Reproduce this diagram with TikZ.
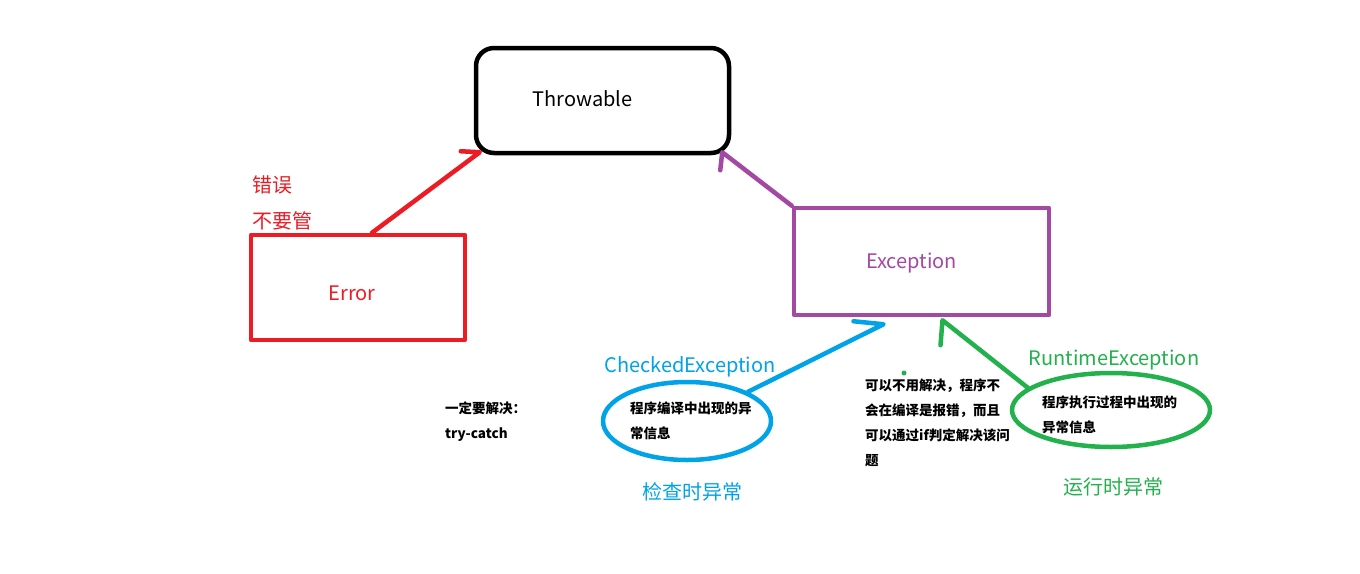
\documentclass[tikz,border=0pt]{standalone}
\usepackage{fontspec}
\setmainfont{Noto Sans CJK SC}
\usetikzlibrary{shapes.geometric}
\definecolor{penred}{HTML}{ED1C24}
\definecolor{penpurple}{HTML}{A349A4}
\definecolor{penblue}{HTML}{00A2E8}
\definecolor{pengreen}{HTML}{22B14C}
\begin{document}
\begin{tikzpicture}[x=1pt, y=-1pt,
    pen/.style={line width=4.5pt, line cap=round, line join=round},
    box/.style={pen, draw, rectangle, inner sep=0pt},
    oval/.style={pen, draw, ellipse, inner sep=0pt},
    big/.style={font=\fontsize{20}{24}\selectfont},
    note/.style={font=\fontsize{13.5}{25}\selectfont\bfseries, align=left, anchor=north west, inner sep=0pt}]

        \useasboundingbox[fill=white] (0,0) rectangle (1360,573);

        % ==========================================
        % 1. Throwable
        % ==========================================
        \node[box, rounded corners=18pt, minimum width=253pt, minimum height=105pt] (throwable) at (602.5,100.5) {};
        \node[big] at ([shift={(-20,-2)}]throwable.center) {Throwable};

        % ==========================================
        % 2. Error
        % ==========================================
        \node[box, penred, minimum width=214pt, minimum height=105pt] (error) at (358,287.5) {};
        \node[big, penred] at ([shift={(-6,6)}]error.center) {Error};
        \node[big, penred, anchor=west, inner sep=0pt] (errnote1) at (252,185) {错误};
        \node[big, penred, anchor=west, inner sep=0pt] (errnote2) at (252,221) {不要管};
        \draw[pen, penred] ([xshift=14]error.north) -- ([shift={(6,-3)}]throwable.south west) -- ++(-19,-1);

        % ==========================================
        % 3. Exception
        % ==========================================
        \node[box, penpurple, minimum width=255pt, minimum height=107pt] (exception) at (921.5,261.5) {};
        \node[big, penpurple] at ([shift={(-10,2)}]exception.center) {Exception};
        \draw[pen, penpurple] (exception.north west) -- ([shift={(-9,-3)}]throwable.south east) -- ++(-2,18);

        % ==========================================
        % 4. CheckedException
        % ==========================================
        \node[oval, penblue, minimum width=168pt, minimum height=78pt] (checked) at (687,421) {};
        \node[big, penblue] (checkedname) at (690,367) {CheckedException};
        \node[big, penblue] (checkedcn) at (692,492) {检查时异常};
        \node[note] (checkedtxt) at (630,402) {程序编译中出现的异\\常信息};
        \node[note] (trycatch) at (445,402) {一定要解决：\\try-catch};
        \draw[pen, penblue] (checked.north east) -- ([shift={(-38,7)}]exception.south) -- ++(-30,-3);

        % ==========================================
        % 5. RuntimeException
        % ==========================================
        \node[oval, pengreen, minimum width=198pt, minimum height=74pt] (runtime) at (1111,410) {};
        \node[big, pengreen] (runtimename) at (1114,360) {RuntimeException};
        \node[big, pengreen] (runtimecn) at (1113,487) {运行时异常};
        \node[note] (runtimetxt) at (1042,396) {程序执行过程中出现的\\异常信息};
        \node[note] (ifnote) at (865,379) {可以不用解决，程序不\\会在编译是报错，而且\\可以通过if判定解决该问\\题};
        \draw[pen, pengreen] (runtime.165) -- ([shift={(21,3)}]exception.south) -- ++(-2,25);
        \fill[pengreen] (904,373) circle (2.5);

\end{tikzpicture}
\end{document}
